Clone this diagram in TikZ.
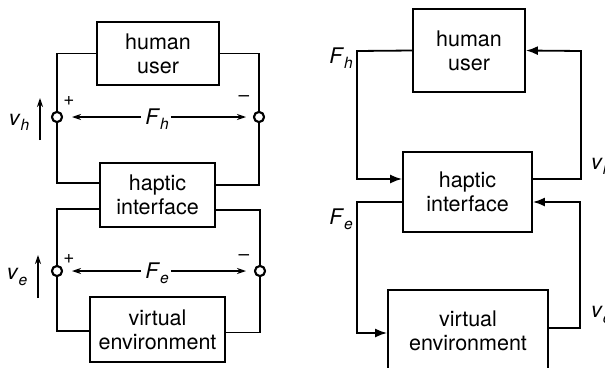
\documentclass[tikz,border=0pt]{standalone}
\usepackage{fontspec}
\setmainfont{TeX Gyre Heros}
\usetikzlibrary{arrows.meta}
\newcommand{\vsub}[2]{\textit{#1}\raisebox{-0.45ex}{\fontsize{15.5}{15.5}\selectfont\textit{#2}}}
\begin{document}
\begin{tikzpicture}[x=1pt,y=-1pt,
  box/.style={draw,line width=1.8pt,inner sep=0pt,align=center,
    font=\fontsize{21.5}{24}\selectfont},
  term/.style={circle,draw,fill=white,line width=2pt,minimum size=10pt,inner sep=0pt},
  wire/.style={line width=1.8pt},
  lbl/.style={font=\fontsize{21.5}{24}\selectfont,inner sep=0pt},
  sgn/.style={font=\fontsize{19}{19}\selectfont,inner sep=0pt},
  thinarr/.style={line width=1.2pt,-{Stealth[length=9pt,width=6pt]}},
  fbarr/.style={line width=1.8pt,-{Latex[length=12pt,width=9pt]}}]
\useasboundingbox (0,0) rectangle (605,367);
% ---------- left diagram ----------
\node[box,minimum width=122pt,minimum height=63pt] (hu) at (158,53.5) {human\\user};
\node[box,minimum width=115pt,minimum height=64pt] (hi) at (157.5,195) {haptic\\interface};
\node[box,minimum width=135pt,minimum height=65pt] (ve) at (157.5,329.5) {virtual\\environment};
\node[term] (t1) at (57,117) {};
\node[term] (t2) at (259,117) {};
\node[term] (t3) at (57,271) {};
\node[term] (t4) at (260,271) {};
\draw[wire] (hu.west) -| (t1);
\draw[wire] (hu.east) -| (t2);
\draw[wire] (t1) |- ([yshift=12pt]hi.west);
\draw[wire] (t2) |- ([yshift=10pt]hi.east);
\draw[wire] ([yshift=-14pt]hi.west) -| (t3);
\draw[wire] ([yshift=-15pt]hi.east) -| (t4);
\draw[wire] (t3) |- ([yshift=-1.5pt]ve.west);
\draw[wire] (t4) |- ([yshift=-3pt]ve.east);
\node[term] at (t1) {};
\node[term] at (t2) {};
\node[term] at (t3) {};
\node[term] at (t4) {};
\node[lbl] (fh) at (157,119) {\vsub{F}{h}};
\coordinate (fhl) at (72,117);
\coordinate (fhr) at (246,117);
\draw[thinarr] (fh.west |- fhl) ++(-4,0) -- (fhl);
\draw[thinarr] (fh.east |- fhr) ++(2,0) -- (fhr);
\node[lbl] (fe) at (157,273) {\vsub{F}{e}};
\coordinate (fel) at (72,271);
\coordinate (fer) at (246,271);
\draw[thinarr] (fe.west |- fel) ++(-4,0) -- (fel);
\draw[thinarr] (fe.east |- fer) ++(2,0) -- (fer);
\node[sgn] (p1) at (69,101) {+};
\node[sgn] (m1) at (244,99) {\textendash};
\node[sgn] (p2) at (69,259) {+};
\node[sgn] (m2) at (244,258) {\textendash};
\coordinate (vha) at (40,140);
\coordinate (vhb) at (40,98);
\draw[thinarr] (vha) -- (vhb);
\node[lbl] (vh) at (19,122) {\vsub{v}{h}};
\coordinate (vea) at (38,298);
\coordinate (veb) at (38,255);
\draw[thinarr] (vea) -- (veb);
\node[lbl] (vel) at (17,277) {\vsub{v}{e}};
% ---------- right diagram ----------
\node[box,minimum width=112pt,minimum height=83pt] (hu2) at (469,50.5) {human\\user};
\node[box,minimum width=129pt,minimum height=80pt] (hi2) at (467.5,192) {haptic\\interface};
\node[box,minimum width=160pt,minimum height=82pt] (ve2) at (468,331) {virtual\\environment};
\coordinate (c1) at (357,51);
\coordinate (c2) at (581,51);
\coordinate (c3) at (357,202);
\coordinate (c4) at (580,202);
\draw[fbarr] (hu2.west) -- (c1) |- ([yshift=13pt]hi2.west);
\draw[fbarr] ([yshift=13pt]hi2.east) -| (c2) -- (hu2.east);
\draw[fbarr] ([yshift=-10pt]hi2.west) -- (c3) |- ([yshift=-2pt]ve2.west);
\draw[fbarr] ([yshift=3pt]ve2.east) -| (c4) -- ([yshift=-10pt]hi2.east);
\node[lbl,anchor=east] (fh2) at (353,58) {\vsub{F}{h}};
\node[lbl,anchor=east] (fe2) at (353,219) {\vsub{F}{e}};
\node[lbl,anchor=west] (vh2) at (591,166) {\vsub{v}{h}};
\node[lbl,anchor=west] (ve2l) at (591,315) {\vsub{v}{e}};
\end{tikzpicture}
\end{document}
